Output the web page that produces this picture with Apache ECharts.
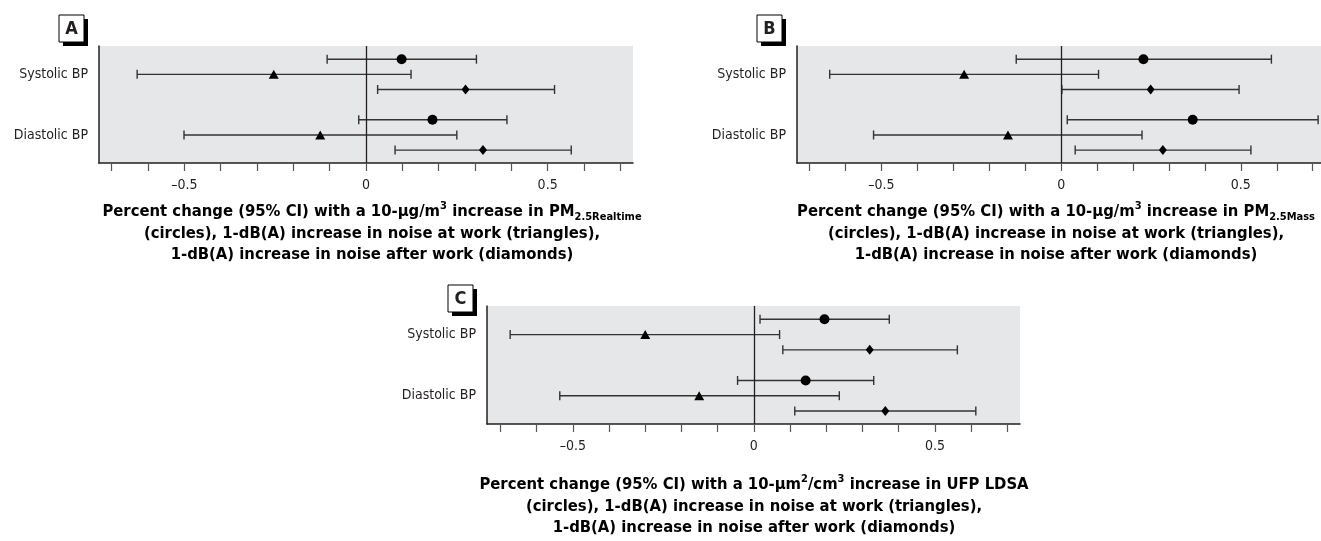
<!DOCTYPE html>
<html><head><meta charset="utf-8">
<script src="https://cdn.jsdelivr.net/npm/echarts@6/dist/echarts.min.js"></script>
<style>html,body{margin:0;padding:0;background:#fff}#c{width:1321px;height:541px}</style>
</head><body><div id="c"></div>
<script>
// ---- data: [estimate, lower 95% CI, upper 95% CI] for [Systolic BP, Diastolic BP]
const rowLabels = ['Systolic BP', 'Diastolic BP'];
const xTicks = [-0.7, -0.6, -0.5, -0.4, -0.3, -0.2, -0.1, 0, 0.1, 0.2, 0.3, 0.4, 0.5, 0.6, 0.7];
const xTickLabels = [-0.5, 0, 0.5];

const A_circle   = [[0.098, -0.107, 0.304], [0.183, -0.020, 0.388]];
const A_triangle = [[-0.254, -0.630, 0.124], [-0.126, -0.501, 0.250]];
const A_diamond  = [[0.274, 0.032, 0.519], [0.322, 0.080, 0.565]];

const B_circle   = [[0.229, -0.125, 0.585], [0.366, 0.017, 0.715]];
const B_triangle = [[-0.270, -0.644, 0.104], [-0.148, -0.522, 0.225]];
const B_diamond  = [[0.249, 0.002, 0.495], [0.283, 0.039, 0.528]];

const C_circle   = [[0.195, 0.017, 0.374], [0.143, -0.045, 0.331]];
const C_triangle = [[-0.300, -0.673, 0.071], [-0.151, -0.536, 0.236]];
const C_diamond  = [[0.320, 0.080, 0.562], [0.363, 0.113, 0.613]];

const FF = '"Liberation Sans Narrow","Arial Narrow","DejaVu Sans Condensed",sans-serif';
const TXT = '#231f20';

const chart = echarts.init(document.getElementById('c'), null, {renderer: 'canvas'});

const grids = [
  {left: 99, top: 46, width: 534, height: 117},
  {left: 797, top: 46, width: 524, height: 117},
  {left: 487, top: 306, width: 533, height: 118}
];
const xRanges = [[-0.735, 0.735], [-0.735, 0.723], [-0.737, 0.735]];

function fmtX(v) {
  if (Math.abs(v) < 1e-9) return '0';
  return v < 0 ? '\u2013' + Math.abs(v) : String(v);
}

const xAxes = grids.map((g, i) => ({
  type: 'value', gridIndex: i, min: xRanges[i][0], max: xRanges[i][1],
  position: 'bottom',
  axisLine: {show: true, onZero: false, lineStyle: {color: '#231f20', width: 1.5}},
  axisTick: {show: true, customValues: xTicks, length: 8, inside: false, lineStyle: {color: '#555', width: 1.2}},
  axisLabel: {show: true, customValues: xTickLabels, formatter: fmtX, margin: 15,
              fontFamily: FF, fontSize: 14, color: TXT},
  splitLine: {show: false}
}));

const yAxes = grids.map((g, i) => ({
  type: 'value', gridIndex: i, min: -0.87, max: 6.85, inverse: true,
  axisLine: {show: true, onZero: false, lineStyle: {color: '#231f20', width: 1.5}},
  axisTick: {show: false},
  axisLabel: {show: true, customValues: [1, 5], margin: 11,
              formatter: v => (Math.round(v) === 1 ? rowLabels[0] : rowLabels[1]),
              fontFamily: FF, fontSize: 14, color: TXT},
  splitLine: {show: false}
}));

function panelSeries(idx, circ, tri, dia) {
  const groups = [circ, tri, dia];
  const shapes = [['circle', 10], ['triangle', [10, 9]], ['diamond', [8, 10]]];
  const bars = [];
  const pts = [[], [], []];
  for (let r = 0; r < 2; r++) {
    for (let s = 0; s < 3; s++) {
      const d = groups[s][r];
      const y = r * 4 + s;
      bars.push([d[1], d[2], y]);
      pts[s].push([d[0], y]);
    }
  }
  const out = [{
    type: 'custom', xAxisIndex: idx, yAxisIndex: idx, silent: true, z: 2,
    encode: {x: [0, 1], y: 2},
    data: bars,
    renderItem: function (params, api) {
      const lo = api.coord([api.value(0), api.value(2)]);
      const hi = api.coord([api.value(1), api.value(2)]);
      const h = 4.5;
      const st = {stroke: '#333', lineWidth: 1.4};
      return {type: 'group', children: [
        {type: 'line', shape: {x1: lo[0], y1: lo[1], x2: hi[0], y2: hi[1]}, style: st},
        {type: 'line', shape: {x1: lo[0], y1: lo[1] - h, x2: lo[0], y2: lo[1] + h}, style: st},
        {type: 'line', shape: {x1: hi[0], y1: hi[1] - h, x2: hi[0], y2: hi[1] + h}, style: st}
      ]};
    },
    markLine: {
      silent: true, symbol: 'none', label: {show: false},
      lineStyle: {color: '#231f20', width: 1.3, type: 'solid'},
      data: [{xAxis: 0}]
    }
  }];
  shapes.forEach((sh, s) => {
    out.push({
      type: 'scatter', xAxisIndex: idx, yAxisIndex: idx, silent: true, z: 5,
      symbol: sh[0], symbolSize: sh[1],
      itemStyle: {color: '#000', opacity: 1},
      data: pts[s]
    });
  });
  return out;
}

const series = [].concat(
  panelSeries(0, A_circle, A_triangle, A_diamond),
  panelSeries(1, B_circle, B_triangle, B_diamond),
  panelSeries(2, C_circle, C_triangle, C_diamond)
);

const rich = {
  b: {fontFamily: FF, fontWeight: 'bold', fontSize: 16.5, color: TXT, lineHeight: 21.5},
  sup: {fontFamily: FF, fontWeight: 'bold', fontSize: 11, color: TXT, lineHeight: 11, verticalAlign: 'top'},
  sub: {fontFamily: FF, fontWeight: 'bold', fontSize: 11, color: TXT, lineHeight: 11, verticalAlign: 'bottom'}
};
const line2 = '{b|(circles), 1-dB(A) increase in noise at work (triangles),}';
const line3 = '{b|1-dB(A) increase in noise after work (diamonds)}';
const titleA = '{b|Percent change (95% CI) with a 10-\u00b5g/m}{sup|3}{b| increase in PM}{sub|2.5Realtime}\n' + line2 + '\n' + line3;
const titleB = '{b|Percent change (95% CI) with a 10-\u00b5g/m}{sup|3}{b| increase in PM}{sub|2.5Mass}\n' + line2 + '\n' + line3;
const titleC = '{b|Percent change (95% CI) with a 10-\u00b5m}{sup|2}{b|/cm}{sup|3}{b| increase in UFP LDSA}\n' + line2 + '\n' + line3;

function titleEl(text, x, y) {
  return {type: 'text', x: x, y: y, silent: true,
    style: {text: text, rich: rich, textAlign: 'center', textVerticalAlign: 'top', align: 'center', verticalAlign: 'top'}};
}
function boxEl(letter, x, y) {
  return {type: 'group', x: x, y: y, silent: true, children: [
    {type: 'rect', shape: {x: 4, y: 4, width: 25, height: 27}, style: {fill: '#000'}},
    {type: 'rect', shape: {x: 0, y: 0, width: 25, height: 27}, style: {fill: '#fff', stroke: '#000', lineWidth: 1}},
    {type: 'text', x: 12.5, y: 14, style: {text: letter, fontFamily: FF, fontWeight: 'bold', fontSize: 18, fill: TXT,
      align: 'center', verticalAlign: 'middle'}}
  ]};
}

chart.setOption({
  animation: false,
  backgroundColor: '#fff',
  grid: grids.map(g => Object.assign({show: true, backgroundColor: '#e6e7e8', borderWidth: 0, containLabel: false}, g)),
  xAxis: xAxes,
  yAxis: yAxes,
  series: series,
  graphic: [
    boxEl('A', 59, 15), boxEl('B', 757, 15), boxEl('C', 448, 285),
    titleEl(titleA, 372, 201), titleEl(titleB, 1056, 201), titleEl(titleC, 754, 474)
  ]
});
</script></body></html>
